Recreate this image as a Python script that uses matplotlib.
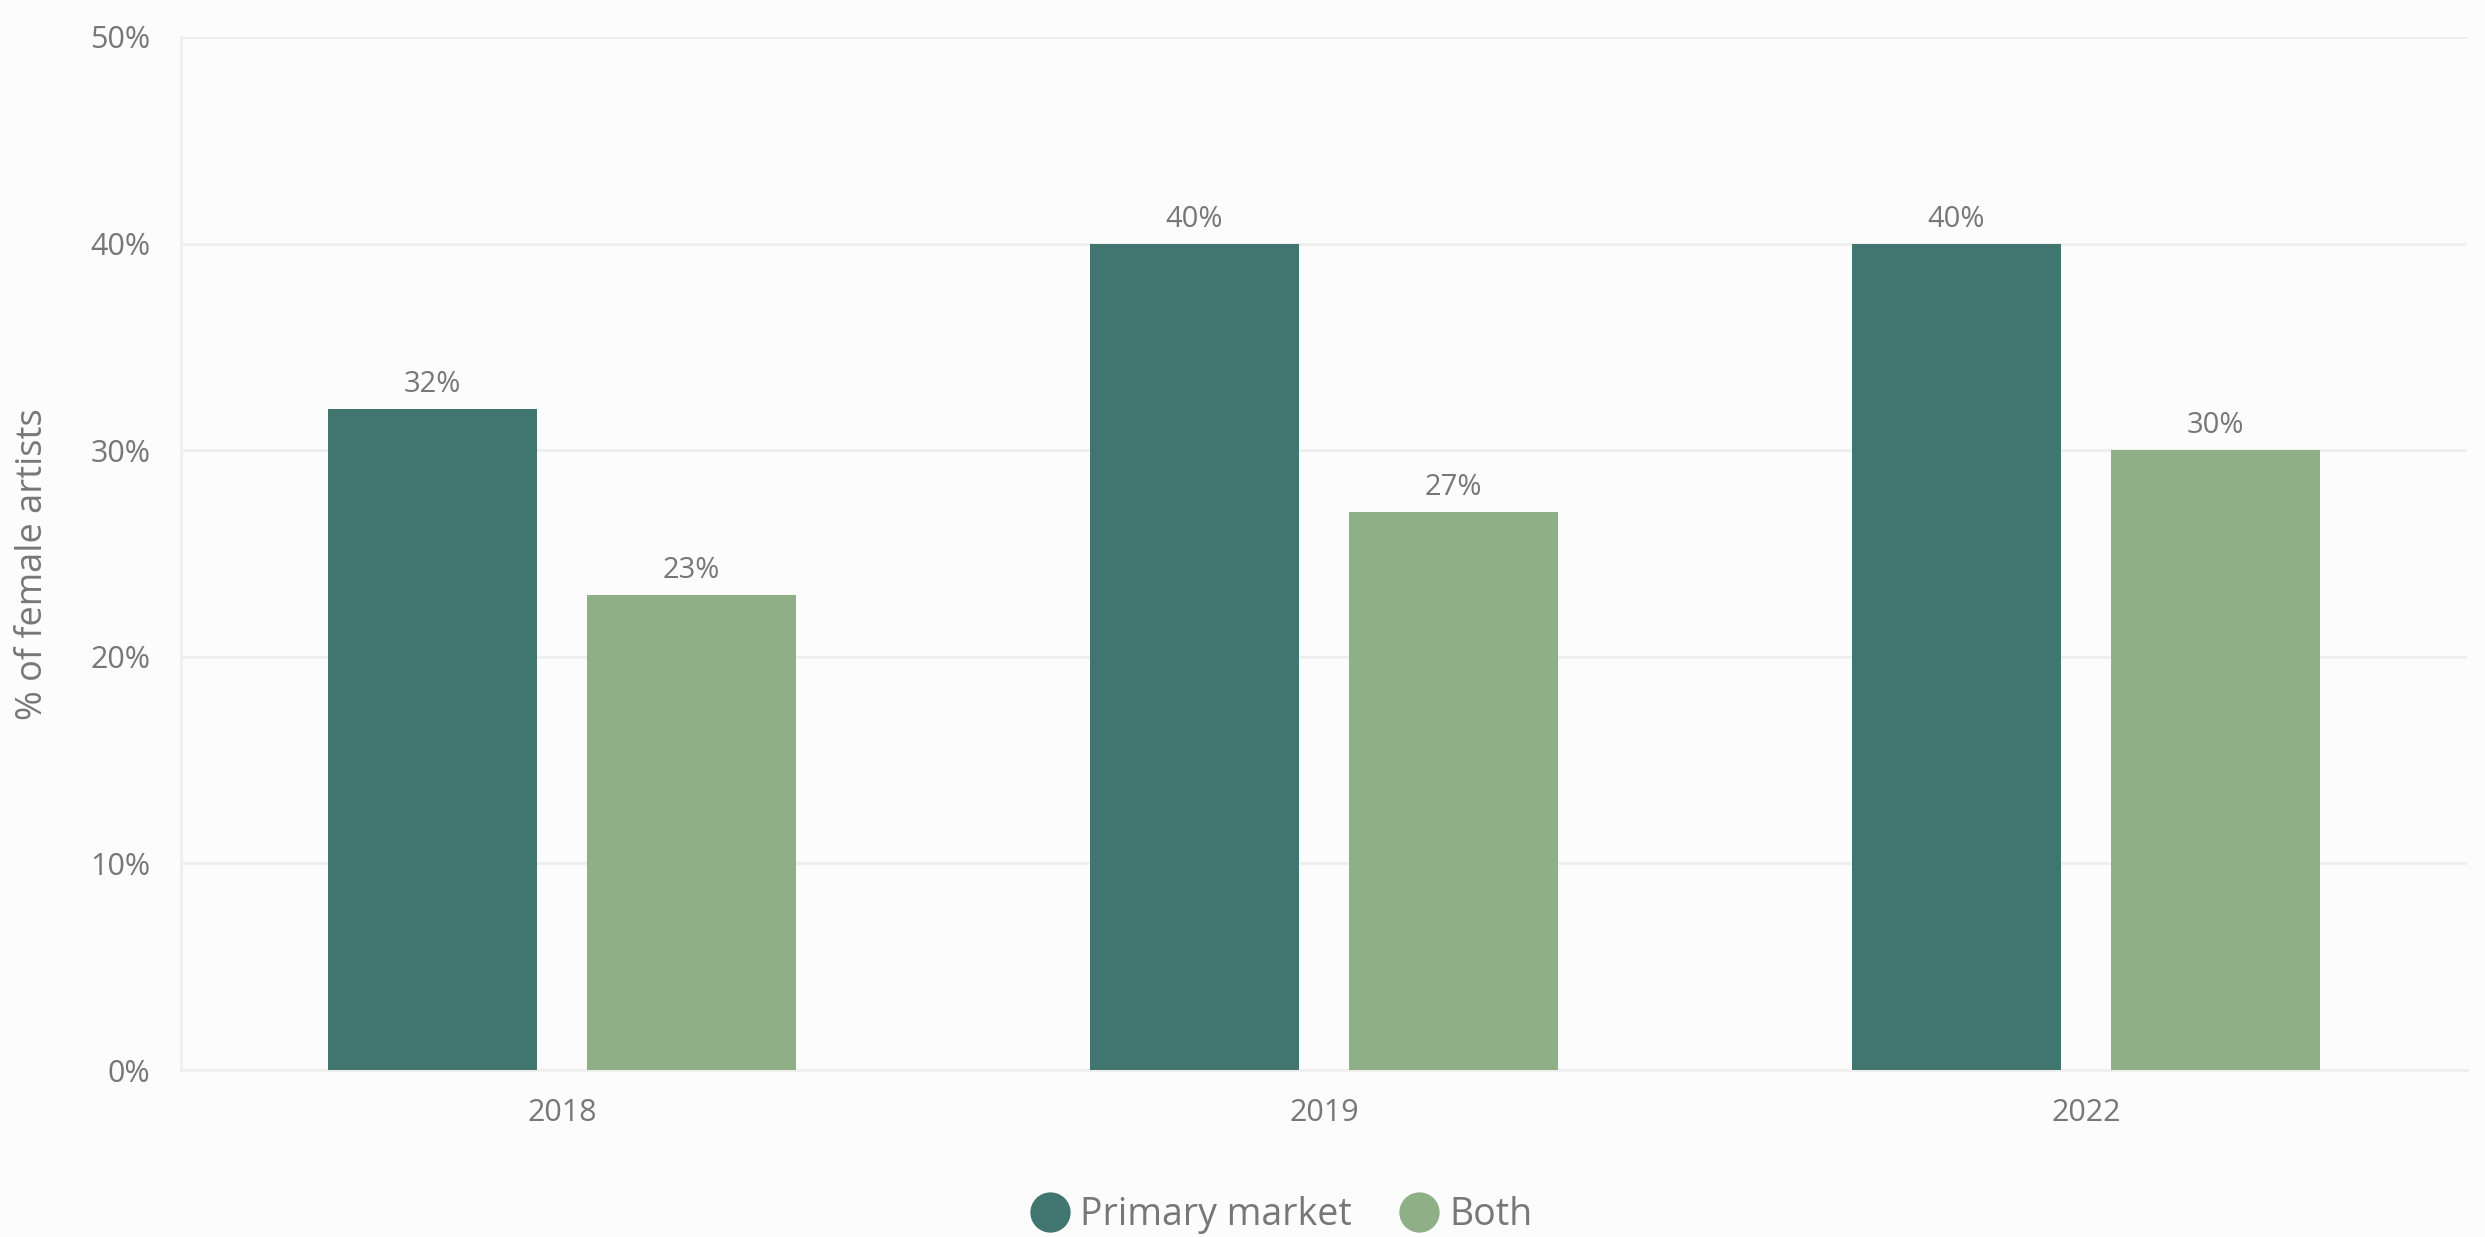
import matplotlib
matplotlib.use("Agg")
import matplotlib.pyplot as plt
import numpy as np
from matplotlib.lines import Line2D

# Datos
years = ['2018', '2019', '2022']
primary_market = [32, 40, 40]
both = [23, 27, 30]

colors = {'Primary market': '#41756f', 'Both': '#8faf86'}
text_color = '#777777'
grid_color = '#eeeeee'
bg = '#fcfcfc'

plt.rcParams['font.family'] = ['Open Sans', 'DejaVu Sans']

fig = plt.figure(figsize=(24.85, 12.37), dpi=100, facecolor=bg)
ax = fig.add_axes([181 / 2485, 1 - 1070 / 1237, (2467 - 181) / 2485, (1070 - 37) / 1237])
ax.set_facecolor(bg)

x = np.arange(len(years))
width = 0.274
offset = 0.17

bars1 = ax.bar(x - offset, primary_market, width, color=colors['Primary market'], zorder=3)
bars2 = ax.bar(x + offset, both, width, color=colors['Both'], zorder=3)

# Etiquetas encima de las barras
for bars in (bars1, bars2):
    ax.bar_label(bars, labels=[f'{v}%' for v in bars.datavalues], padding=7,
                 fontsize=21, color=text_color)

ax.set_xlim(-0.5, 2.5)
ax.set_ylim(0, 50)
ax.set_yticks(range(0, 51, 10))
ax.set_yticklabels([f'{v}%' for v in range(0, 51, 10)])
ax.set_xticks(x)
ax.set_xticklabels(years)
ax.tick_params(axis='both', length=0, labelsize=22, colors=text_color)
ax.tick_params(axis='y', pad=22)
ax.tick_params(axis='x', pad=20)

ax.grid(axis='y', color=grid_color, linewidth=2, zorder=0)
for side in ['top', 'right']:
    ax.spines[side].set_visible(False)
for side in ['left', 'bottom']:
    ax.spines[side].set_color(grid_color)
    ax.spines[side].set_linewidth(2)

ax.set_ylabel('% of female artists', fontsize=26, color=text_color)
ax.yaxis.set_label_coords((51 - 181) / (2467 - 181), 0.49)

handles = [Line2D([0], [0], marker='o', linestyle='', markersize=28,
                  markerfacecolor=c, markeredgecolor=c, label=k)
           for k, c in colors.items()]
leg = fig.legend(handles=handles, loc='center', bbox_to_anchor=(1280 / 2485, 1 - 1215 / 1237),
                 ncol=2, frameon=False, fontsize=27, handletextpad=0.2, columnspacing=1.2,
                 handlelength=1.2)
for t in leg.get_texts():
    t.set_color(text_color)

plt.savefig('out.png', dpi=100, facecolor=bg)
